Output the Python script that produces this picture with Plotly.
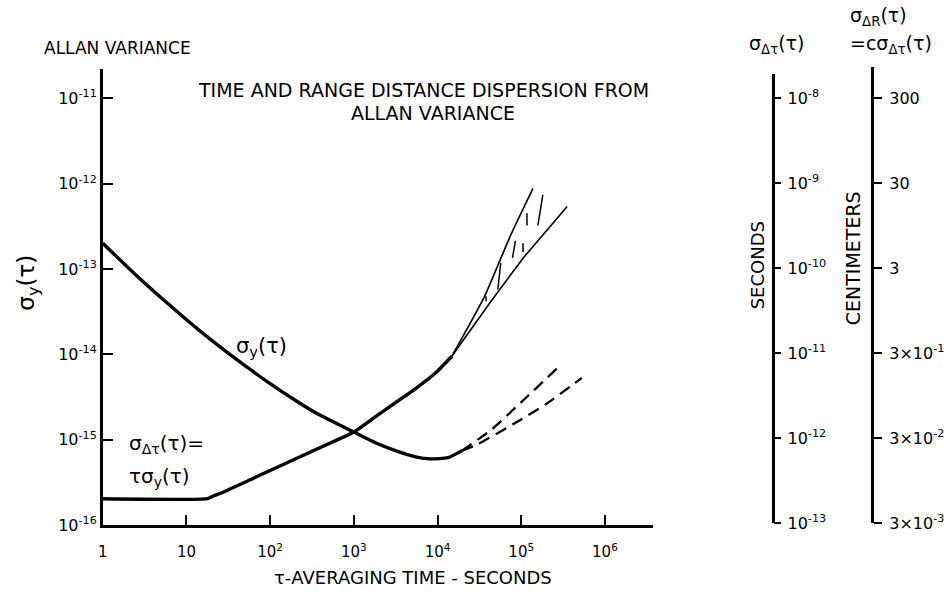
import plotly.graph_objects as go

# ---------------- data ----------------
# sigma_y(tau), solid part
tau_sy = [1, 2.43, 6.07, 14.7, 33.0, 89.3, 217, 372, 1000, 1870, 3200, 5470, 8200, 13300, 19400]
sy = [2.0e-13, 8.7e-14, 3.89e-14, 1.86e-14, 1.0e-14, 4.9e-15, 2.75e-15, 2.0e-15,
      1.23e-15, 9.1e-16, 7.4e-16, 6.3e-16, 5.96e-16, 6.17e-16, 7.4e-16]
# sigma_y extrapolations (dashed)
tau_sy_up = [19400, 43500, 105000, 270000]
sy_up = [7.4e-16, 1.30e-15, 2.88e-15, 6.9e-15]
tau_sy_lo = [19400, 29800, 80700, 196000, 530000]
sy_lo = [7.4e-16, 8.8e-16, 1.53e-15, 2.6e-15, 5.3e-15]

# sigma_dtau(tau) = tau * sigma_y(tau), solid part
tau_sd = [1, 17.8, 20.9, 27.4, 35.8, 74.0, 308, 1000, 1870, 3200, 5470, 9380, 14800]
sd = [2.03e-16, 2.04e-16, 2.19e-16, 2.42e-16, 2.74e-16, 3.8e-16, 7.24e-16,
      1.23e-15, 1.9e-15, 2.75e-15, 3.98e-15, 6.0e-15, 9.5e-15]
# sigma_dtau upper/lower envelope (thin)
tau_sd_up = [14800, 36000, 74300, 138000]
sd_up = [9.5e-15, 4.65e-14, 2.46e-13, 8.8e-13]
tau_sd_lo = [14800, 43500, 105000, 354000]
sd_lo = [9.5e-15, 4.18e-14, 1.34e-13, 5.4e-13]
# hatch marks between the envelopes (start, end pairs)
hatch_tau = [(56900, 52500), (85100, 78500), (181000, 158000), (117000, 117000), (105000, 105000), (38000, 38000)]
hatch_val = [(1.17e-13, 5.75e-14), (2.14e-13, 1.35e-13), (7.4e-13, 3.24e-13), (4.5e-13, 3.24e-13), (2.0e-13, 1.58e-13), (4.8e-14, 4.2e-14)]

# axes ticks
x_tickvals = [1, 10, 100, 1e3, 1e4, 1e5, 1e6]
x_ticktext = ["1", "10", "10<sup>2</sup>", "10<sup>3</sup>", "10<sup>4</sup>", "10<sup>5</sup>", "10<sup>6</sup>"]
y_tickvals = [1e-16, 1e-15, 1e-14, 1e-13, 1e-12, 1e-11]
y_ticktext = ["10<sup>-16</sup>", "10<sup>-15</sup>", "10<sup>-14</sup>", "10<sup>-13</sup>", "10<sup>-12</sup>", "10<sup>-11</sup>"]
sec_tickvals = [1e-13, 1e-12, 1e-11, 1e-10, 1e-9, 1e-8]
sec_ticktext = ["10<sup>-13</sup>", "10<sup>-12</sup>", "10<sup>-11</sup>", "10<sup>-10</sup>", "10<sup>-9</sup>", "10<sup>-8</sup>"]
cm_tickvals = [3e-3, 3e-2, 3e-1, 3, 30, 300]
cm_ticktext = ["3×10<sup>-3</sup>", "3×10<sup>-2</sup>", "3×10<sup>-1</sup>", "3", "30", "300"]

# ---------------- figure ----------------
W, H = 944, 598
FONT = "DejaVu Sans"
K = "black"


def px(x):
    return x / W


def py(y):
    return 1 - y / H


fig = go.Figure()


def add_line(x, y, width, dash="solid", shape="spline", smoothing=0.6):
    fig.add_trace(go.Scatter(x=x, y=y, mode="lines",
                             line=dict(color=K, width=width, dash=dash, shape=shape, smoothing=smoothing),
                             hoverinfo="skip", showlegend=False))


add_line(tau_sy, sy, 3.4)
add_line(tau_sy_up, sy_up, 2.3, dash="12px,7px")
add_line(tau_sy_lo, sy_lo, 2.3, dash="12px,7px")
add_line(tau_sd, sd, 3.4, smoothing=0.5)
add_line(tau_sd_up, sd_up, 1.6, smoothing=0.4)
add_line(tau_sd_lo, sd_lo, 1.6, shape="linear")

hx, hy = [], []
for (t0, t1), (v0, v1) in zip(hatch_tau, hatch_val):
    hx += [t0, t1, None]
    hy += [v0, v1, None]
add_line(hx, hy, 1.5, shape="linear")

# invisible traces to attach the right-hand scales
fig.add_trace(go.Scatter(x=[None], y=[None], yaxis="y2", showlegend=False, hoverinfo="skip"))
fig.add_trace(go.Scatter(x=[None], y=[None], yaxis="y3", showlegend=False, hoverinfo="skip"))

tickfont = dict(family=FONT, size=16, color=K)

fig.update_layout(
    width=W, height=H, autosize=False,
    margin=dict(l=0, r=0, t=0, b=0),
    paper_bgcolor="white", plot_bgcolor="rgba(0,0,0,0)",
    showlegend=False, hovermode=False,
    font=dict(family=FONT, color=K),
    xaxis=dict(type="log", range=[0, 6.577], domain=[px(100), px(663)], anchor="y",
               showline=True, linewidth=2.5, linecolor=K, mirror=False,
               ticks="inside", ticklen=10, tickwidth=2, tickcolor=K,
               tickvals=x_tickvals, ticktext=x_ticktext,
               tickfont=dict(family=FONT, size=15, color=K),
               ticklabelstandoff=11, showgrid=False, zeroline=False),
    yaxis=dict(type="log", range=[-16.0, -10.655], domain=[py(534), py(70)], anchor="x",
               showline=True, linewidth=2.5, linecolor=K,
               ticks="inside", ticklen=10, tickwidth=2, tickcolor=K,
               tickvals=y_tickvals, ticktext=y_ticktext, tickfont=tickfont,
               showgrid=False, zeroline=False),
    yaxis2=dict(type="log", range=[-13.0, -7.711], domain=[py(532), py(75)],
                anchor="free", position=px(785), side="right",
                showline=True, linewidth=2.5, linecolor=K,
                ticks="outside", ticklen=7, tickwidth=2, tickcolor=K,
                tickvals=sec_tickvals, ticktext=sec_ticktext, tickfont=tickfont,
                ticklabelstandoff=3, showgrid=False, zeroline=False),
    yaxis3=dict(type="log", range=[-2.523, 2.847], domain=[py(532), py(68)],
                anchor="free", position=px(887), side="right",
                showline=True, linewidth=2.5, linecolor=K,
                ticks="outside", ticklen=8, tickwidth=2, tickcolor=K,
                tickvals=cm_tickvals, ticktext=cm_ticktext, tickfont=tickfont,
                ticklabelstandoff=4, showgrid=False, zeroline=False),
)


def txt(text, x, y, size, xanchor="center", yanchor="middle", angle=0):
    fig.add_annotation(text=text, x=px(x), y=py(y), xref="paper", yref="paper",
                       showarrow=False, xanchor=xanchor, yanchor=yanchor, textangle=angle,
                       font=dict(family=FONT, size=size, color=K))


txt("ALLAN VARIANCE", 38, 49, 17, xanchor="left")
txt("TIME AND RANGE DISTANCE DISPERSION FROM", 195, 92, 19, xanchor="left")
txt("ALLAN VARIANCE", 438, 115, 19)
txt("σ<sub>y</sub>(τ)", 24, 287, 23, angle=-90)
txt("τ-AVERAGING TIME - SECONDS", 417, 587, 18)
txt("σ<sub>y</sub>(τ)", 262, 353, 21)
txt("σ<sub>Δτ</sub>(τ)=", 125, 452, 20, xanchor="left")
txt("τσ<sub>y</sub>(τ)", 125, 485, 20, xanchor="left")
txt("σ<sub>Δτ</sub>(τ)", 789, 45, 19)
txt("σ<sub>ΔR</sub>(τ)", 862, 17, 19, xanchor="left")
txt("=cσ<sub>Δτ</sub>(τ)", 862, 45, 19, xanchor="left")
txt("SECONDS", 770, 270, 18, angle=-90)
txt("CENTIMETERS", 867, 263, 19, angle=-90)

fig.write_html("out.html")
